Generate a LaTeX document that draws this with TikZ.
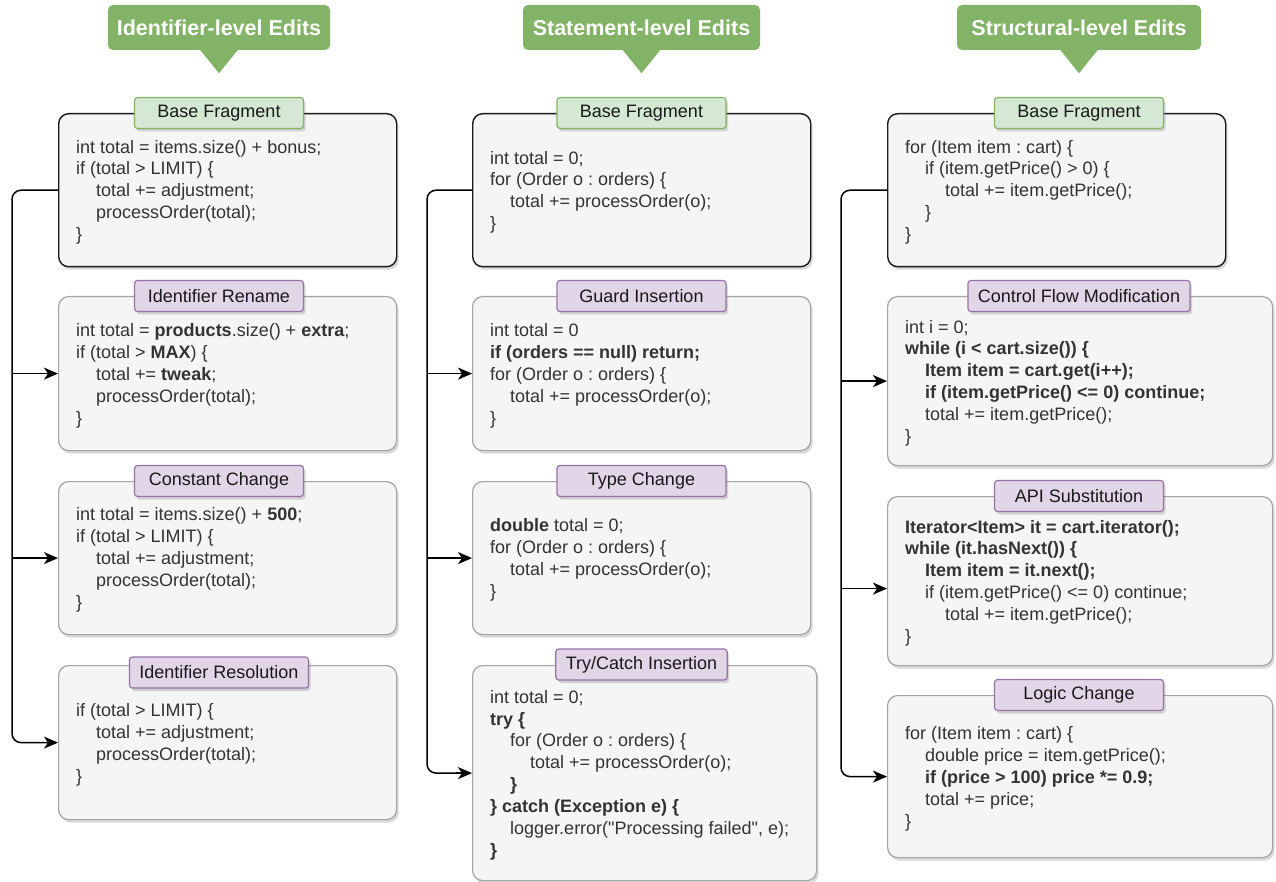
\documentclass[tikz,border=0pt]{standalone}
\usepackage{fontspec}
\setmainfont{Liberation Sans}[Ligatures=TeXOff]
\usetikzlibrary{shadows,arrows.meta}
\definecolor{hdrgreen}{HTML}{82B366}
\definecolor{tagGfill}{HTML}{D5E8D4}
\definecolor{tagGline}{HTML}{82B366}
\definecolor{tagPfill}{HTML}{E1D5E7}
\definecolor{tagPline}{HTML}{9673A6}
\definecolor{boxfill}{HTML}{F5F5F5}
\definecolor{codetext}{HTML}{333333}
\definecolor{editline}{HTML}{A3A3A3}
\newcommand\ind{\hspace*{20pt}}
\frenchspacing
\tikzset{
  hdr/.style={fill=hdrgreen, text=white, font=\fontsize{21.5}{26}\selectfont\bfseries,
    rounded corners=5pt, minimum height=45pt, inner sep=0pt},
  boxshadow/.style={drop shadow={shadow xshift=2pt, shadow yshift=-3pt, opacity=0.25, fill=black!60}},
  basebox/.style={draw=black!90, line width=1.4pt, fill=boxfill, rounded corners=10pt,
    boxshadow, anchor=north west, inner sep=0pt},
  editbox/.style={draw=editline, line width=1.2pt, fill=boxfill, rounded corners=10pt,
    boxshadow, anchor=north west, inner sep=0pt},
  tagG/.style={fill=tagGfill, draw=tagGline, line width=1.2pt, rounded corners=3pt,
    minimum width=169pt, minimum height=31pt, inner xsep=10pt, inner ysep=0pt,
    font=\fontsize{18}{22}\selectfont, text=black!90, boxshadow},
  tagP/.style={tagG, fill=tagPfill, draw=tagPline},
  code/.style={anchor=west, align=left, inner sep=0pt, text=codetext,
    font=\fontsize{18}{21.9}\selectfont\frenchspacing},
  conn/.style={line width=1.5pt, draw=black, rounded corners=9pt},
  arr/.style={line width=1.5pt, draw=black, -{Stealth[length=14pt,width=12pt,inset=4pt]}},
}
\begin{document}
\begin{tikzpicture}[x=1pt,y=-1pt]
\useasboundingbox (0,0) rectangle (1276,882);

% headers
\node[hdr, minimum width=222pt] (h1) at (219,27.5) {Identifier-level Edits};
\node[hdr, minimum width=237pt] (h2) at (641.5,27.5) {Statement-level Edits};
\node[hdr, minimum width=244pt] (h3) at (1079,27.5) {Structural-level Edits};
\foreach \h in {h1,h2,h3}{
  \fill[hdrgreen] ([xshift=-19pt,yshift=0.5pt]\h.south) -- ([xshift=19pt,yshift=0.5pt]\h.south) -- ([yshift=-23pt]\h.south) -- cycle;
}

% column 1 boxes
\node[basebox, minimum width=338pt, minimum height=153pt] (b1) at (58,113) {};
\node[editbox, minimum width=338pt, minimum height=154pt] (e11) at (58,296) {};
\node[editbox, minimum width=338pt, minimum height=153pt] (e12) at (58,481) {};
\node[editbox, minimum width=338pt, minimum height=154pt] (e13) at (58,665) {};
% column 2 boxes
\node[basebox, minimum width=338pt, minimum height=153pt] (b2) at (472,113) {};
\node[editbox, minimum width=338pt, minimum height=154pt] (e21) at (472,296) {};
\node[editbox, minimum width=338pt, minimum height=153pt] (e22) at (472,481) {};
\node[editbox, minimum width=344pt, minimum height=215pt] (e23) at (472,665) {};
% column 3 boxes
\node[basebox, minimum width=338pt, minimum height=153pt] (b3) at (887,113) {};
\node[editbox, minimum width=385pt, minimum height=169pt] (e31) at (887,296) {};
\node[editbox, minimum width=385pt, minimum height=169pt] (e32) at (887,496) {};
\node[editbox, minimum width=385pt, minimum height=162pt] (e33) at (887,695) {};

% connectors
\coordinate (s1) at (12,0);
\coordinate (s2) at (427,0);
\coordinate (s3) at (841,0);
\draw[conn] (b1.west) -- (s1 |- b1.west) -- (s1 |- e13.west) -- ([xshift=-2pt]e13.west);
\draw[arr] ([xshift=-16pt]e13.west) -- (e13.west);
\draw[arr] (s1 |- e11.west) -- (e11.west);
\draw[arr] (s1 |- e12.west) -- (e12.west);
\draw[conn] (b2.west) -- (s2 |- b2.west) -- (s2 |- e23.west) -- ([xshift=-2pt]e23.west);
\draw[arr] ([xshift=-16pt]e23.west) -- (e23.west);
\draw[arr] (s2 |- e21.west) -- (e21.west);
\draw[arr] (s2 |- e22.west) -- (e22.west);
\draw[conn] (b3.west) -- (s3 |- b3.west) -- (s3 |- e33.west) -- ([xshift=-2pt]e33.west);
\draw[arr] ([xshift=-16pt]e33.west) -- (e33.west);
\draw[arr] (s3 |- e31.west) -- (e31.west);
\coordinate (e32in) at ([yshift=-7.5pt]e32.west);
\draw[arr] (s3 |- e32in) -- (e32in);

% tags
\node[tagG] (t1) at (h1.south |- b1.north) {Base Fragment};
\node[tagP] (t11) at (h1.south |- e11.north) {Identifier Rename};
\node[tagP] (t12) at (h1.south |- e12.north) {Constant Change};
\node[tagP] (t13) at ([yshift=-7.5pt]h1.south |- e13.north) {Identifier Resolution};
\node[tagG] (t2) at (h2.south |- b2.north) {Base Fragment};
\node[tagP] (t21) at (h2.south |- e21.north) {Guard Insertion};
\node[tagP] (t22) at (h2.south |- e22.north) {Type Change};
\node[tagP] (t23) at ([yshift=0.5pt]h2.south |- e23.north) {Try/Catch Insertion};
\node[tagG] (t3) at (h3.south |- b3.north) {Base Fragment};
\node[tagP] (t31) at (h3.south |- e31.north) {Control Flow Modification};
\node[tagP] (t32) at (h3.south |- e32.north) {API Substitution};
\node[tagP] (t33) at (h3.south |- e33.north) {Logic Change};

% code column 1
\node[code] (c1) at ([xshift=18pt,yshift=-2pt]b1.west) {int total = items.size() + bonus;\\
if (total > LIMIT) \{\\
\ind total += adjustment;\\
\ind processOrder(total);\\
\}};
\node[code] (c11) at ([xshift=18pt,yshift=-2pt]e11.west) {int total = \textbf{products}.size() + \textbf{extra};\\
if (total > \textbf{MAX}) \{\\
\ind total += \textbf{tweak};\\
\ind processOrder(total);\\
\}};
\node[code] (c12) at ([xshift=18pt,yshift=-2pt]e12.west) {int total = items.size() + \textbf{500};\\
if (total > LIMIT) \{\\
\ind total += adjustment;\\
\ind processOrder(total);\\
\}};
\node[code] (c13) at ([xshift=18pt,yshift=-2pt]e13.west) {if (total > LIMIT) \{\\
\ind total += adjustment;\\
\ind processOrder(total);\\
\}};

% code column 2
\node[code] (c2) at ([xshift=18pt,yshift=-2pt]b2.west) {int total = 0;\\
for (Order o : orders) \{\\
\ind total += processOrder(o);\\
\}};
\node[code] (c21) at ([xshift=18pt,yshift=-2pt]e21.west) {int total = 0\\
\textbf{if (orders == null) return;}\\
for (Order o : orders) \{\\
\ind total += processOrder(o);\\
\}};
\node[code] (c22) at ([xshift=18pt,yshift=-2pt]e22.west) {\textbf{double} total = 0;\\
for (Order o : orders) \{\\
\ind total += processOrder(o);\\
\}};
\node[code] (c23) at ([xshift=18pt,yshift=-2pt]e23.west) {int total = 0;\\
\textbf{try \{}\\
\ind for (Order o : orders) \{\\
\ind\ind total += processOrder(o);\\
\ind\textbf{\}}\\
\textbf{\} catch (Exception e) \{}\\
\ind logger.error("Processing failed", e);\\
\textbf{\}}};

% code column 3
\node[code] (c3) at ([xshift=18pt,yshift=-2pt]b3.west) {for (Item item : cart) \{\\
\ind if (item.getPrice() > 0) \{\\
\ind\ind total += item.getPrice();\\
\ind\}\\
\}};
\node[code] (c31) at ([xshift=18pt,yshift=-2pt]e31.west) {int i = 0;\\
\textbf{while (i < cart.size()) \{}\\
\ind\textbf{Item item = cart.get(i++);}\\
\ind\textbf{if (item.getPrice() <= 0) continue;}\\
\ind total += item.getPrice();\\
\}};
\node[code] (c32) at ([xshift=18pt,yshift=-2pt]e32.west) {\textbf{Iterator<Item> it = cart.iterator();}\\
\textbf{while (it.hasNext()) \{}\\
\ind\textbf{Item item = it.next();}\\
\ind if (item.getPrice() <= 0) continue;\\
\ind\ind total += item.getPrice();\\
\}};
\node[code] (c33) at ([xshift=18pt,yshift=-2pt]e33.west) {for (Item item : cart) \{\\
\ind double price = item.getPrice();\\
\ind\textbf{if (price > 100) price *= 0.9;}\\
\ind total += price;\\
\}};
\end{tikzpicture}
\end{document}
